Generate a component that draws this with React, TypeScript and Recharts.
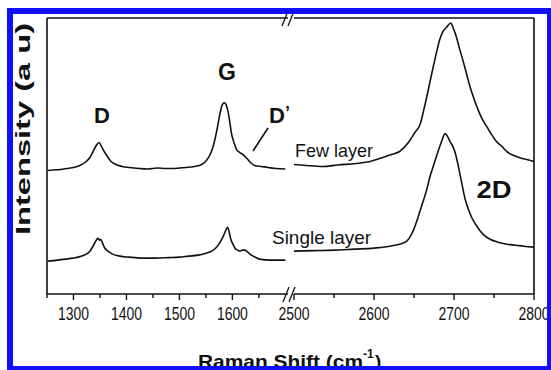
import { LineChart, Line, XAxis, YAxis } from 'recharts';

const FONT = '"Liberation Sans", Arial, Helvetica, sans-serif';
const INK = '#111';
const FRAME_BLUE = '#1010f8';

// Raman shift (cm-1) / intensity (a.u.)
const FEW_LAYER_LOW: [number, number][] = [
    [1252, 124], [1262, 124.5], [1275, 125], [1288, 126], [1300, 127], [1312, 129], [1324, 133],
    [1331, 137], [1337, 143], [1343, 149], [1348, 152], [1353, 148], [1358, 143], [1364, 138],
    [1371, 133], [1380, 130], [1392, 128], [1405, 127], [1424, 126], [1440, 125.5], [1458, 126.5],
    [1474, 126], [1490, 126], [1511, 127], [1528, 128], [1542, 130], [1551, 134], [1558, 140],
    [1563, 147], [1567, 155], [1572, 168], [1577, 182], [1581, 190], [1585, 192], [1588, 190],
    [1591, 185], [1595, 173], [1598, 162], [1603, 152], [1608, 145], [1614, 142], [1620, 140],
    [1626, 137], [1634, 132], [1642, 129], [1655, 128], [1667, 127], [1682, 126], [1700, 125.5],
];

const FEW_LAYER_HIGH: [number, number][] = [
    [2500, 130], [2515, 129], [2536, 128], [2555, 129.5], [2578, 131], [2595, 133], [2611, 137],
    [2622, 140], [2632, 143], [2643, 152], [2651, 162], [2658, 171], [2662, 184], [2666, 198],
    [2670, 213], [2674, 228], [2678, 242], [2682, 255], [2686, 263], [2691, 268], [2696, 272],
    [2699, 267], [2703, 258], [2707, 246], [2712, 232], [2716, 220], [2720, 208], [2725, 196],
    [2730, 185], [2735, 176], [2741, 168], [2747, 160], [2753, 153], [2760, 148], [2766, 143],
    [2772, 140], [2778, 138], [2785, 136], [2791, 135], [2800, 133],
];

const SINGLE_LAYER_LOW: [number, number][] = [
    [1252, 33], [1270, 34], [1285, 35], [1299, 36], [1312, 37.5], [1324, 40], [1331, 43],
    [1337, 48], [1342, 53], [1346, 56], [1349, 54], [1351, 55], [1355, 51], [1358, 47],
    [1365, 43], [1374, 40], [1388, 38], [1405, 37], [1430, 36], [1455, 36], [1480, 36.5],
    [1500, 37], [1517, 38], [1535, 39], [1550, 41], [1561, 43], [1570, 47], [1577, 52],
    [1582, 57], [1586, 62], [1591, 67], [1594, 62], [1597, 55], [1601, 50], [1605, 46],
    [1610, 44], [1614, 43], [1619, 44], [1623, 44], [1629, 42], [1636, 39], [1643, 37],
    [1651, 35], [1673, 34], [1700, 34],
];

const SINGLE_LAYER_HIGH: [number, number][] = [
    [2500, 43], [2525, 43.5], [2550, 44], [2575, 45], [2600, 46], [2620, 48], [2632, 50],
    [2641, 53], [2647, 60], [2653, 72], [2657, 82], [2661, 92], [2666, 105], [2670, 118],
    [2674, 128], [2678, 138], [2684, 152], [2689, 161], [2692, 158], [2695, 153], [2698, 149],
    [2701, 143], [2705, 130], [2708, 118], [2711, 106], [2714, 95], [2718, 85], [2722, 77],
    [2727, 70], [2733, 63], [2739, 58], [2745, 55], [2755, 52], [2766, 50], [2777, 49],
    [2787, 48], [2800, 47],
];

const LOW_DOMAIN: [number, number] = [1250, 1705];
const HIGH_DOMAIN: [number, number] = [2500, 2800];
const LOW_TICKS = [1250, 1300, 1350, 1400, 1450, 1500, 1550, 1600, 1650];
const LOW_LABELS = [1300, 1400, 1500, 1600];
const HIGH_TICKS = [2500, 2550, 2600, 2650, 2700, 2750, 2800];
const HIGH_LABELS = [2500, 2600, 2700, 2800];
const Y_DOMAIN: [number, number] = [0, 277];

// one row per shift value, missing series left empty (connectNulls bridges them)
function mergeSeries(few: [number, number][], single: [number, number][]) {
    const rows = new Map<number, any>();
    few.forEach(([x, v]) => rows.set(x, { ...(rows.get(x) || { x }), few: v }));
    single.forEach(([x, v]) => rows.set(x, { ...(rows.get(x) || { x }), single: v }));
    return [...rows.values()].sort((a, b) => a.x - b.x);
}

const lowRows = mergeSeries(FEW_LAYER_LOW, SINGLE_LAYER_LOW);
const highRows = mergeSeries(FEW_LAYER_HIGH, SINGLE_LAYER_HIGH);

const makeTick = (labels: number[]) => (props: any) => {
    const { x, y, payload } = props;
    const major = labels.includes(payload.value);
    return (
        <g>
            <line x1={x} x2={x} y1={y} y2={y + (major ? 6 : 4)} stroke={INK} strokeWidth={1.4} />
            {major && (
                <text x={x} y={y + 26} textAnchor="middle" fontFamily={FONT} fontSize={18} fill={INK}
                    textLength={31} lengthAdjust="spacingAndGlyphs">
                    {payload.value}
                </text>
            )}
        </g>
    );
};

const axisLine = { stroke: INK, strokeWidth: 1.5 };

const spectra = () => [
    <Line key="few" type="monotone" dataKey="few" stroke={INK} strokeWidth={1.6} dot={false}
        connectNulls isAnimationActive={false} />,
    <Line key="single" type="monotone" dataKey="single" stroke={INK} strokeWidth={1.6} dot={false}
        connectNulls isAnimationActive={false} />,
];

// plot box edges in page pixels (the two panels of the broken axis)
const BOX = { left: 47, breakL: 288, breakR: 294, right: 534, top: 18, bottom: 294 };

export default function App() {
    const labelStyle = { fontFamily: FONT, fill: INK };
    return (
        <div style={{ position: 'absolute', left: 0, top: 0, width: 551, height: 370, overflow: 'hidden', background: '#fff' }}>
            {/* low-shift segment: D, G, D' */}
            <div style={{ position: 'absolute', left: 0, top: 0 }}>
                <LineChart width={300} height={370} data={lowRows}
                    margin={{ top: BOX.top, right: 300 - BOX.breakL, bottom: 46, left: BOX.left }}>
                    <XAxis dataKey="x" type="number" domain={LOW_DOMAIN} ticks={LOW_TICKS} interval={0}
                        tickSize={0} tickMargin={0} tickLine={false} tick={makeTick(LOW_LABELS)}
                        height={30} axisLine={axisLine} allowDataOverflow />
                    <YAxis type="number" domain={Y_DOMAIN} hide />
                    {spectra()}
                </LineChart>
            </div>

            {/* high-shift segment: 2D */}
            <div style={{ position: 'absolute', left: 270, top: 0 }}>
                <LineChart width={281} height={370} data={highRows}
                    margin={{ top: BOX.top, right: 551 - BOX.right, bottom: 46, left: BOX.breakR - 270 }}>
                    <XAxis dataKey="x" type="number" domain={HIGH_DOMAIN} ticks={HIGH_TICKS} interval={0}
                        tickSize={0} tickMargin={0} tickLine={false} tick={makeTick(HIGH_LABELS)}
                        height={30} axisLine={axisLine} allowDataOverflow />
                    <YAxis type="number" domain={Y_DOMAIN} hide />
                    {spectra()}
                </LineChart>
            </div>

            {/* frame, labels, axis titles, break marks and the blue figure border */}
            <svg width={551} height={370} style={{ position: 'absolute', left: 0, top: 0, pointerEvents: 'none' }}>
                <g stroke={INK} strokeWidth={1.6} fill="none">
                    <line x1={BOX.left} y1={BOX.top} x2={BOX.left} y2={BOX.bottom} />
                    <line x1={BOX.right} y1={BOX.top} x2={BOX.right} y2={BOX.bottom} />
                    <line x1={BOX.left} y1={BOX.top} x2={BOX.breakL} y2={BOX.top} />
                    <line x1={BOX.breakR} y1={BOX.top} x2={BOX.right} y2={BOX.top} />
                </g>
                <g stroke={INK} strokeWidth={1.3}>
                    <line x1={282} y1={26} x2={288} y2={11} />
                    <line x1={288} y1={26} x2={294} y2={11} />
                    <line x1={283} y1={302} x2={289} y2={287} />
                    <line x1={289} y1={302} x2={295} y2={287} />
                    <line x1={268} y1={128} x2={253} y2={151} strokeWidth={1.6} />
                </g>
                <g {...labelStyle} fontWeight="bold">
                    <text x={102} y={123} fontSize={22} textAnchor="middle">D</text>
                    <text x={227} y={80} fontSize={23} textAnchor="middle">G</text>
                    <text x={269} y={123} fontSize={22}>D<tspan fontSize={18} dy={-4}>’</tspan></text>
                    <text x={494} y={198} fontSize={24} textAnchor="middle" textLength={35} lengthAdjust="spacingAndGlyphs">2D</text>
                    <text transform="rotate(-90 30 129)" x={30} y={129} fontSize={20} textAnchor="middle"
                        textLength={212} lengthAdjust="spacingAndGlyphs">Intensity (a u)</text>
                    <text x={198} y={368} fontSize={19} textLength={165} lengthAdjust="spacingAndGlyphs">Raman Shift (cm</text>
                    <text x={363} y={358} fontSize={12}>-1</text>
                    <text x={375} y={368} fontSize={19}>)</text>
                </g>
                <g {...labelStyle}>
                    <text x={295} y={157} fontSize={19} textLength={78} lengthAdjust="spacingAndGlyphs">Few layer</text>
                    <text x={272} y={244} fontSize={19} textLength={99} lengthAdjust="spacingAndGlyphs">Single layer</text>
                </g>
                <g fill={FRAME_BLUE}>
                    <rect x={7} y={8} width={544} height={6} />
                    <rect x={7} y={8} width={6} height={362} />
                    <rect x={547} y={8} width={4} height={362} />
                    <rect x={7} y={366} width={544} height={4} />
                </g>
            </svg>
        </div>
    );
}
